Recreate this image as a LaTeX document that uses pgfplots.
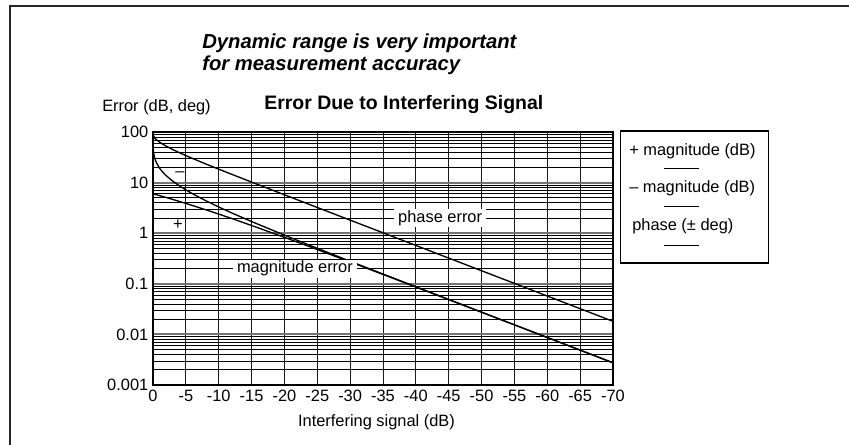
\documentclass[border=0pt]{standalone}
\usepackage{pgfplots}
\pgfplotsset{compat=1.18}
\usepackage{fontspec}
\setmainfont{Liberation Sans}
\newcommand{\reg}{\fontsize{12.3}{14}\selectfont}
\begin{document}
\begin{tikzpicture}[x=0.75pt,y=0.75pt]
\useasboundingbox (0,0) rectangle (849,445);
\draw[line width=1.5pt, black!85] (10,-5) -- (10,439) -- (860,439);
% titles
\node[anchor=base west, inner sep=0pt, font=\fontsize{15.2}{18}\selectfont\bfseries\itshape] at (202,396) {Dynamic range is very important};
\node[anchor=base west, inner sep=0pt, font=\fontsize{15.2}{18}\selectfont\bfseries\itshape] at (202,374) {for measurement accuracy};
\node[anchor=base west, inner sep=0pt, font=\reg] at (102,333) {Error (dB, deg)};
\node[anchor=base west, inner sep=0pt, font=\fontsize{14.6}{17}\selectfont\bfseries] at (264,335) {Error Due to Interfering Signal};
\node[anchor=base, inner sep=0pt, font=\reg] at (376.5,18.3) {Interfering signal (dB)};
% legend box
\draw[line width=0.8pt] (620.7,314) rectangle (768.7,182);
\node[anchor=base west, inner sep=0pt, font=\reg] at (629,289) {+ magnitude (dB)};
\node[anchor=base west, inner sep=0pt, font=\reg] at (629,252) {– magnitude (dB)};
\node[anchor=base west, inner sep=0pt, font=\reg] at (632,214) {phase (± deg)};
\draw[line width=0.7pt] (664,276.3) -- (699,276.3);
\draw[line width=0.7pt] (664,238.3) -- (699,238.3);
\draw[line width=0.7pt] (664,200) -- (699,200);
\begin{axis}[
  at={(114.75pt,45pt)}, anchor=south west,
  scale only axis, width=345pt, height=189.75pt,
  ymode=log, ymin=0.001, ymax=100,
  xmin=-70, xmax=0, x dir=reverse,
  xtick={0,-5,-10,-15,-20,-25,-30,-35,-40,-45,-50,-55,-60,-65,-70},
  xticklabels={0,-5,-10,-15,-20,-25,-30,-35,-40,-45,-50,-55,-60,-65,-70},
  ytick={0.001,0.01,0.1,1,10,100},
  yticklabels={0.001,0.01,0.1,1,10,100},
  minor ytick={0.002,0.003,0.004,0.005,0.006,0.007,0.008,0.009,
    0.02,0.03,0.04,0.05,0.06,0.07,0.08,0.09,
    0.2,0.3,0.4,0.5,0.6,0.7,0.8,0.9,
    2,3,4,5,6,7,8,9,20,30,40,50,60,70,80,90},
  major tick length=0pt, minor tick length=0pt,
  xmajorgrids, ymajorgrids, yminorgrids,
  major x grid style={black!90, line width=0.7pt},
  major y grid style={black!55, line width=1.6pt},
  minor y grid style={black, line width=0.5pt},
  axis line style={black, line width=0.9pt},
  tick label style={font=\reg},
  xticklabel style={text height=9pt, text depth=0pt},
  clip=true,
]
\addplot[black, line width=1pt] coordinates {
(0,6.021)(-1,5.535)(-2,5.078)(-3,4.649)(-4,4.249)(-5,3.875)(-6,3.529)(-8,2.911)(-10,2.387)(-12,1.947)(-15,1.421)(-20,0.828)(-25,0.4753)(-30,0.2704)(-35,0.1531)(-40,0.0864)(-45,0.04875)(-50,0.02742)(-55,0.01543)(-60,0.00868)(-65,0.004883)(-70,0.002746)};
\addplot[black, line width=1pt] coordinates {
(0,100)(-0.05,44.8)(-0.1,38.8)(-0.25,30.9)(-0.5,25.05)(-1,19.28)(-1.5,15.99)(-2,13.74)(-3,10.69)(-4,8.66)(-5,7.18)(-6,6.04)(-8,4.41)(-10,3.30)(-12,2.51)(-15,1.70)(-20,0.915)(-25,0.5027)(-30,0.2791)(-35,0.1558)(-40,0.0873)(-45,0.04902)(-50,0.02751)(-55,0.01546)(-60,0.00869)(-65,0.004886)(-70,0.002748)};
\addplot[black, line width=1pt] coordinates {
(0,90)(-0.25,76.3)(-0.5,70.7)(-1,63.0)(-1.5,57.3)(-2,52.6)(-3,45.07)(-4,39.1)(-5,34.2)(-6,30.08)(-8,23.46)(-10,18.43)(-12,14.55)(-15,10.24)(-20,5.74)(-25,3.224)(-30,1.812)(-35,1.019)(-40,0.573)(-45,0.3222)(-50,0.1812)(-55,0.1019)(-60,0.0573)(-65,0.0322)(-70,0.01812)};
\node[fill=white, inner xsep=3pt, inner ysep=1pt, font=\reg] at (axis cs:-43.7,2) {phase error};
\node[fill=white, inner xsep=3pt, inner ysep=1pt, font=\reg] at (axis cs:-21.6,0.2) {magnitude error};
\node[font=\reg, inner sep=0pt] at (axis cs:-4.1,14.5) {–};
\node[font=\reg, inner sep=0pt] at (axis cs:-3.8,1.5) {+};
\end{axis}
\end{tikzpicture}
\end{document}
